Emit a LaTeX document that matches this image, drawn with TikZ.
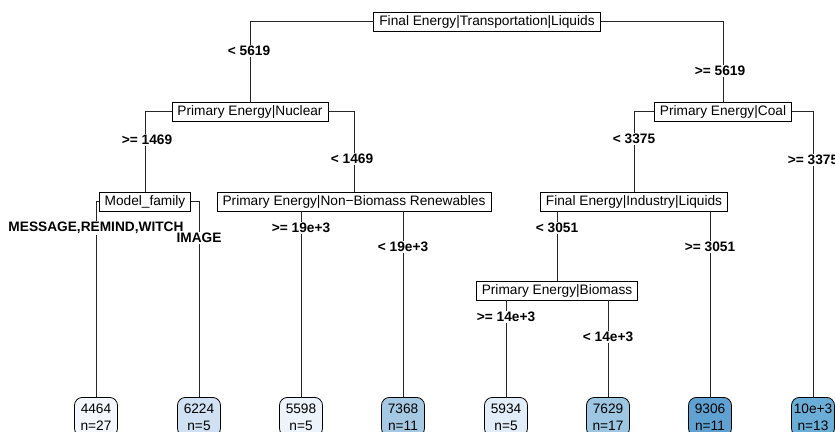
\documentclass[tikz,border=0pt]{standalone}
\usepackage{fontspec}
\setmainfont{Liberation Sans}
\definecolor{cA}{HTML}{F4F8FD}
\definecolor{cB}{HTML}{CFE1F2}
\definecolor{cC}{HTML}{EDF3FB}
\definecolor{cD}{HTML}{A5C9E3}
\definecolor{cE}{HTML}{E1EDF8}
\definecolor{cF}{HTML}{9CC6E1}
\definecolor{cG}{HTML}{5FA2D2}
\definecolor{cH}{HTML}{6AADD6}
\tikzset{
  split/.style={draw, line width=0.8pt, fill=white, inner xsep=5.5pt, inner ysep=0pt, minimum height=19pt, font=\fontsize{13.7}{15}\selectfont},
  leaf/.style={draw, line width=0.8pt, rounded corners=8pt, anchor=north, minimum width=43pt, minimum height=39pt, inner sep=0pt, align=center, font=\fontsize{13.7}{17}\selectfont},
  lbl/.style={font=\bfseries\fontsize{13.7}{15}\selectfont, inner sep=0pt, fill=white, inner xsep=2pt, inner ysep=1pt},
  edge/.style={line width=0.8pt, draw=black!85}
}
\begin{document}
\begin{tikzpicture}[x=1pt,y=-1pt]
\useasboundingbox (0,0) rectangle (835,431);
\clip (0,0) rectangle (835,431);
% split nodes
\node[split] (root) at (487,21.5) {Final Energy|Transportation|Liquids};
\node[split] (nuc) at (250,111.5) {Primary Energy|Nuclear};
\node[split] (coal) at (723,111.5) {Primary Energy|Coal};
\node[split] (mf) at (145,201.5) {Model\_family};
\node[split] (nbr) at (354,201.5) {Primary Energy|Non\char"2212 Biomass Renewables};
\node[split] (ind) at (634,201.5) {Final Energy|Industry|Liquids};
\node[split] (bio) at (557,290.5) {Primary Energy|Biomass};
% leaves
\node[leaf, fill=cA] (l1) at (96,397) {4464\\n=27};
\node[leaf, fill=cB] (l2) at (199,397) {6224\\n=5};
\node[leaf, fill=cC] (l3) at (301,397) {5598\\n=5};
\node[leaf, fill=cD] (l4) at (403,397) {7368\\n=11};
\node[leaf, fill=cE] (l5) at (506,397) {5934\\n=5};
\node[leaf, fill=cF] (l6) at (608,397) {7629\\n=17};
\node[leaf, fill=cG] (l7) at (710,397) {9306\\n=11};
\node[leaf, fill=cH] (l8) at (813,397) {10e+3\\n=13};
% edges
\draw[edge] (root.west) -| (nuc.north);
\draw[edge] (root.east) -| (coal.north);
\draw[edge] (nuc.west) -| (mf.north);
\draw[edge] (nuc.east) -| (nbr.north);
\draw[edge] (coal.west) -| (ind.north);
\draw[edge] (coal.east) -| (l8.north);
\draw[edge] (mf.west) -| (l1.north);
\draw[edge] (mf.east) -| (l2.north);
\draw[edge] (nbr.south -| l3) -- (l3.north);
\draw[edge] (nbr.south -| l4) -- (l4.north);
\draw[edge] (ind.south -| bio) -- (bio.north);
\draw[edge] (ind.south -| l7) -- (l7.north);
\draw[edge] (bio.south -| l5) -- (l5.north);
\draw[edge] (bio.south -| l6) -- (l6.north);
% labels
\node[lbl] (a1) at (249,51) {< 5619};
\node[lbl] (a2) at (720,71) {>= 5619};
\node[lbl] (b1) at (147,140) {>= 1469};
\node[lbl] (b2) at (352,159) {< 1469};
\node[lbl] (c1) at (634,139) {< 3375};
\node[lbl] (c2) at (813,160) {>= 3375};
\node[lbl] (d1) at (96,228) {MESSAGE,REMIND,WITCH};
\node[lbl] (d2) at (199,238) {IMAGE};
\node[lbl] (e1) at (301,228) {>= 19e+3};
\node[lbl] (e2) at (403,247) {< 19e+3};
\node[lbl] (f1) at (557,228) {< 3051};
\node[lbl] (f2) at (710,247) {>= 3051};
\node[lbl] (g1) at (506,317) {>= 14e+3};
\node[lbl] (g2) at (608,337) {< 14e+3};
\end{tikzpicture}
\end{document}
